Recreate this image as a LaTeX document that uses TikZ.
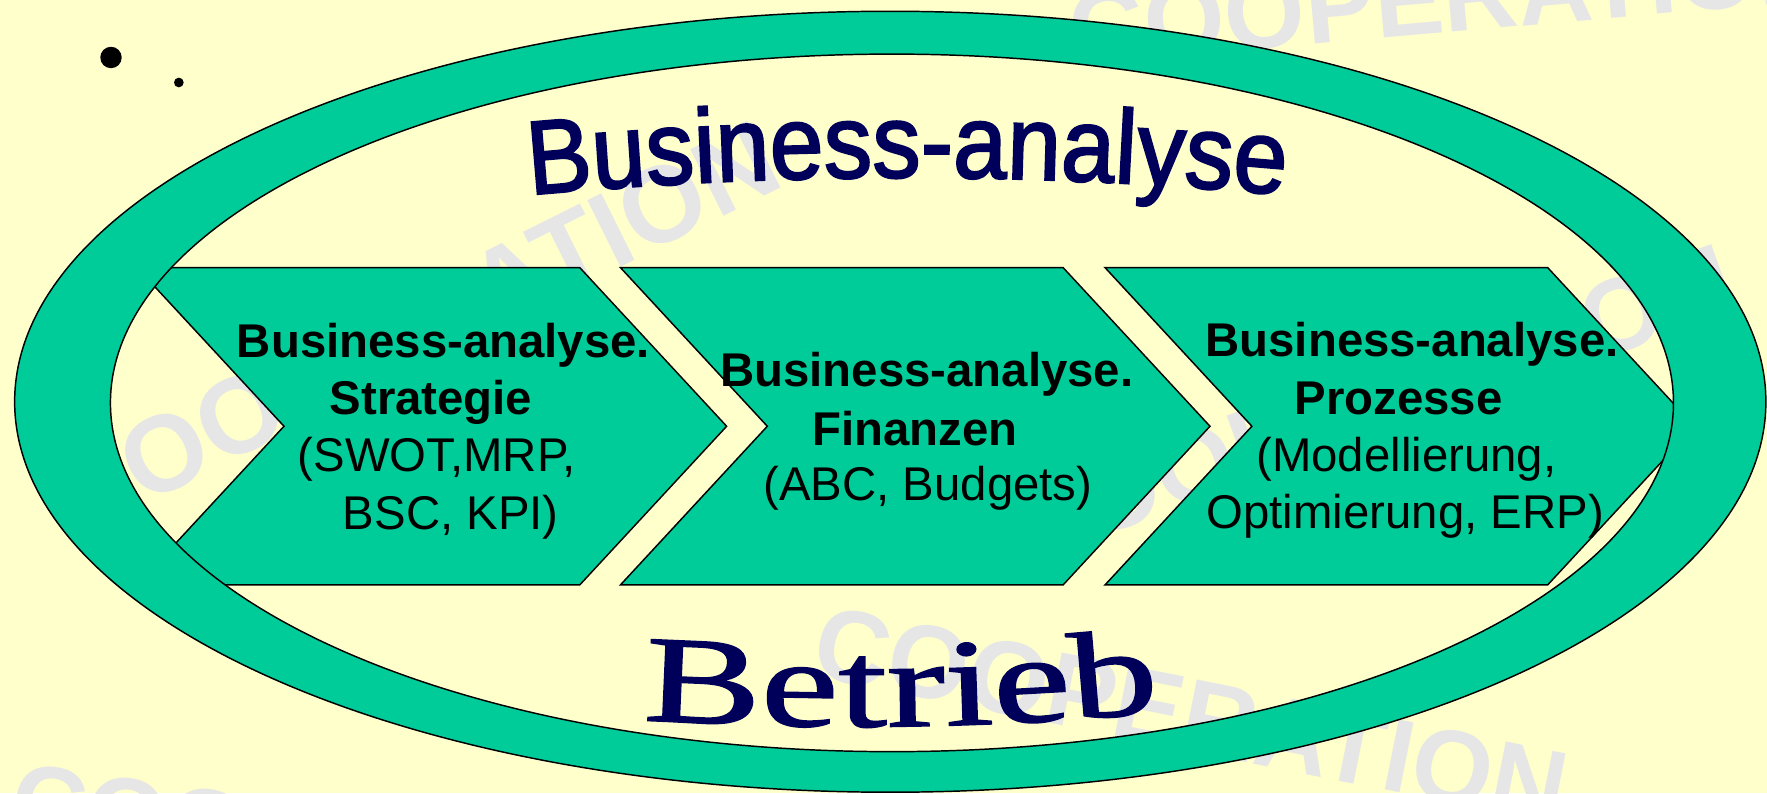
\documentclass[tikz,border=0pt]{standalone}
\usepackage{fontspec}
\setmainfont{Liberation Sans}
\newfontfamily\lsans{Liberation Sans}
\newfontfamily\titlesans[FakeStretch=0.92,FakeBold=2]{Liberation Sans}
\newfontfamily\betfont[FakeStretch=1.42,FakeBold=1.2]{Liberation Serif}
\usetikzlibrary{decorations.text}
\definecolor{bgyellow}{HTML}{FFFFCC}
\definecolor{ringgreen}{HTML}{00CC99}
\definecolor{navy}{RGB}{0,0,90}
\definecolor{wmgray}{HTML}{E6E6E6}
\newcommand\mytitlefmt{\color{navy}\titlesans\fontsize{93}{100}\selectfont}
\newcommand\mybetfmt{\color{navy}\betfont\fontsize{110}{120}\selectfont}
\begin{document}
\begin{tikzpicture}[x=1pt,y=-1pt,
  outline/.style={draw=black, line width=1.3pt},
  chevshape/.style={outline, fill=ringgreen, line join=miter},
  wm/.style={font=\lsans\bfseries\fontsize{92}{100}\selectfont, text=wmgray, inner sep=0pt},
  boldline/.style={font=\lsans\bfseries\fontsize{42}{50}\selectfont, anchor=base, inner sep=0pt},
  plainline/.style={font=\lsans\fontsize{42}{50}\selectfont, anchor=base, inner sep=0pt},
  chev/.pic={\draw[chevshape] (0,0) -- (392.8,0) -- (523.1,140.75) -- (392.8,281.5) -- (0,281.5) -- (130.3,140.75) -- cycle;}
]
\useasboundingbox (0,0) rectangle (1568,703.7);
\clip (0,0) rectangle (1568,703.7);
\fill[bgyellow] (0,0) rectangle (1568,703.7);

% watermarks
\node[wm, rotate=5] (wm1) at (1287,-3) {COOPERATION};
\node[wm, rotate=26.5, font=\lsans\bfseries\fontsize{96}{100}\selectfont] (wm2) at (367,292) {COOPERATION};
\node[wm, rotate=-11.3] (wm3) at (1057,634.5) {COOPERATION};
\node[wm, rotate=-8.3] (wm4) at (347,757) {COOPERATION};
\node[wm, rotate=19.5] (wm5) at (1216,358) {COOPERATION};

% chevrons
\pic at (121.7,237.5) {chev};
\pic at (550.6,237.5) {chev};
\pic at (980.6,237.5) {chev};

% ring
\fill[ringgreen, even odd rule] (790,356.5) ellipse [x radius=777, y radius=346.5]
  (791.5,357.5) ellipse [x radius=693.5, y radius=309.5];
\draw[outline] (790,356.5) ellipse [x radius=777, y radius=346.5];
\draw[outline] (791.5,357.5) ellipse [x radius=693.5, y radius=309.5];

% titles
\path[decorate, decoration={text along path, text align=center,
  text={|\mytitlefmt|Business-analyse}}]
  (440,175.8) .. controls (683.3,151.4) and (926.7,151.4) .. (1170,175.8);
\path[decorate, decoration={text along path, text align=center,
  text={|\mybetfmt|Betrieb}}]
  (555,638) .. controls (720,648) and (880,648) .. (1045,630);

% chevron texts
\node[boldline] (c1a) at (393.5,317.4) {Business-analyse.};
\node[boldline] (c1b) at (382.5,368.2) {Strategie};
\node[plainline] (c1c) at (387.5,418.5) {(SWOT,MRP,};
\node[plainline] (c1d) at (400,470.3) {BSC, KPI)};

\node[boldline] (c2a) at (822.5,343) {Business-analyse.};
\node[boldline] (c2b) at (811.8,394.9) {Finanzen};
\node[plainline] (c2c) at (823.5,443.7) {(ABC, Budgets)};

\node[boldline] (c3a) at (1253,316.5) {Business-analyse.};
\node[boldline] (c3b) at (1241,368.2) {Prozesse};
\node[plainline] (c3c) at (1248,418.5) {(Modellierung,};
\node[plainline] (c3d) at (1247,468.8) {Optimierung, ERP)};

% bullets
\fill[black] (98.5,51) circle [radius=9.5];
\fill[black] (158.7,73.2) circle [radius=4.3];
\end{tikzpicture}
\end{document}
